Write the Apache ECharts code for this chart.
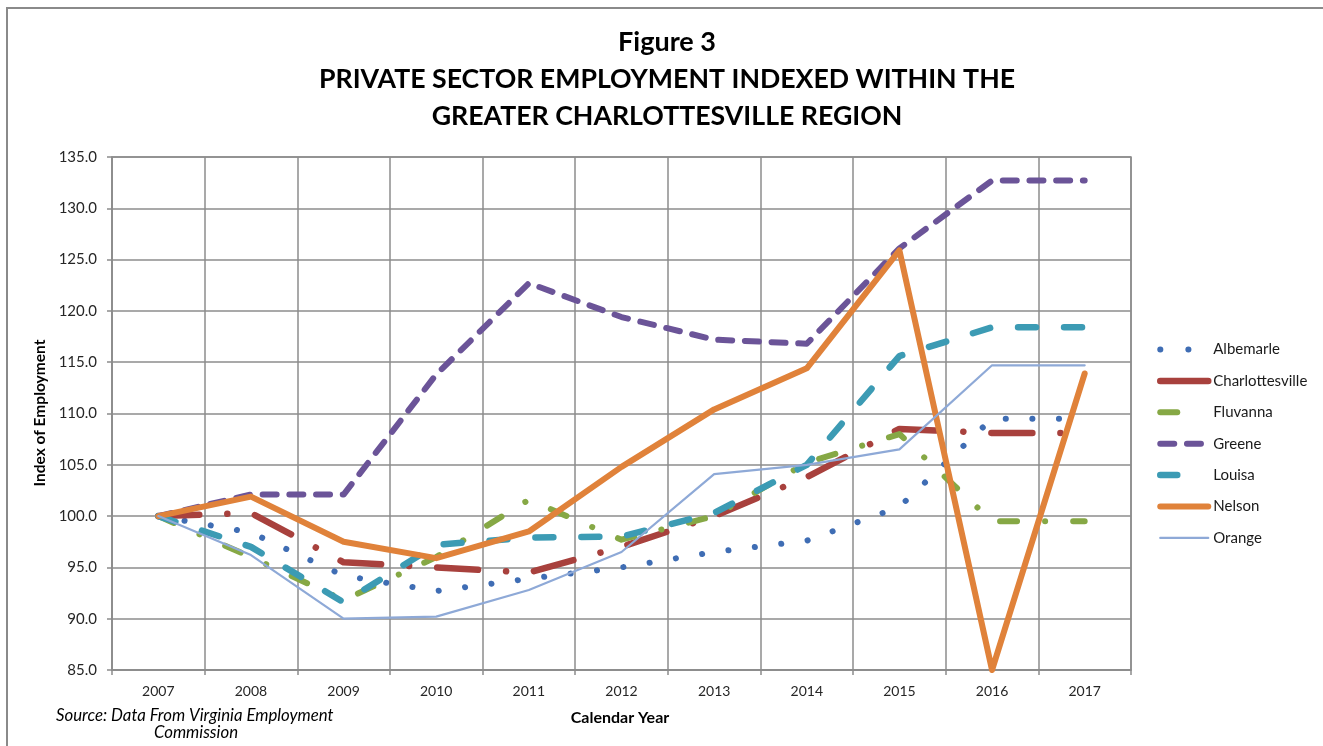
<!DOCTYPE html>
<html>
<head>
<meta charset="utf-8">
<script src="https://cdn.jsdelivr.net/npm/echarts@6/dist/echarts.min.js"></script>
<style>
html,body{margin:0;padding:0;background:#fff;}
#chart{width:1323px;height:746px;}
</style>
</head>
<body>
<div id="chart"></div>
<script>
const years = ['2007','2008','2009','2010','2011','2012','2013','2014','2015','2016','2017'];
const albemarle      = [100, 98.4, 94.2, 92.7, 93.9, 95.0, 96.5, 97.6, 100.9, 109.5, 109.5];
const charlottesville= [100, 100.3, 95.5, 95.0, 94.5, 97.0, 100.0, 103.8, 108.5, 108.1, 108.1];
const fluvanna       = [100, 96.0, 91.8, 96.0, 101.6, 97.7, 100.0, 105.2, 108.0, 99.5, 99.5];
const greene         = [100, 102.1, 102.1, 113.8, 122.7, 119.4, 117.2, 116.8, 126.1, 132.7, 132.7];
const louisa         = [100, 97.0, 91.6, 97.2, 97.9, 98.0, 100.3, 105.0, 115.6, 118.4, 118.4];
const nelson         = [100, 101.9, 97.5, 95.9, 98.5, 104.8, 110.4, 114.4, 125.9, 85.0, 113.9];
const orange         = [100, 96.2, 90.0, 90.2, 92.8, 96.5, 104.1, 105.0, 106.5, 114.7, 114.7];
const yTicks = [85, 90, 95, 100, 105, 110, 115, 120, 125, 130, 135];

const FONT = 'Lato, "Open Sans", sans-serif';

const seriesDefs = [
  {name:'Albemarle', data:albemarle, color:'#3F6DB4', width:6, type:[0.1, 26.5], legendType:[0.1, 28]},
  {name:'Charlottesville', data:charlottesville, color:'#A8413D', width:6.5, type:[41, 28, 0.1, 28], legendType:'solid'},
  {name:'Fluvanna', data:fluvanna, color:'#86A845', width:6, type:[17, 28, 0.1, 28], legendType:[17, 60]},
  {name:'Greene', data:greene, color:'#6B5498', width:6, type:[14, 12.7], legendType:[14, 12.7]},
  {name:'Louisa', data:louisa, color:'#3C9BB4', width:6.5, type:[18, 28], legendType:[17, 60]},
  {name:'Nelson', data:nelson, color:'#E0823A', width:6, type:'solid', legendType:'solid'},
  {name:'Orange', data:orange, color:'#8EA9D7', width:2.2, type:'solid', legendType:'solid'}
];

const chart = echarts.init(document.getElementById('chart'), null, {renderer:'canvas'});
const option = {
  animation:false,
  backgroundColor:'#ffffff',
  grid:{left:112, right:192, top:157, bottom:76, containLabel:false, show:true, borderColor:'#8c8c8c', borderWidth:1.5},
  xAxis:{
    type:'category', data:years, boundaryGap:true,
    axisLine:{show:true, lineStyle:{color:'#8c8c8c', width:1.5}},
    axisTick:{show:true, length:5, lineStyle:{color:'#8c8c8c', width:1.5}},
    axisLabel:{fontFamily:FONT, fontSize:14, color:'#262626', margin:14},
    splitLine:{show:true, lineStyle:{color:'#8c8c8c', width:1.5}}
  },
  yAxis:{
    type:'value', min:85, max:135, interval:5,
    axisLine:{show:true, lineStyle:{color:'#8c8c8c', width:1.5}},
    axisTick:{show:true, length:5, lineStyle:{color:'#8c8c8c', width:1.5}},
    axisLabel:{fontFamily:FONT, fontSize:15, color:'#262626', margin:15,
      formatter:v => yTicks.includes(v) ? v.toFixed(1) : ''},
    splitLine:{show:true, lineStyle:{color:'#8c8c8c', width:1.5}}
  },
  legend:{
    orient:'vertical', left:1157, top:342, padding:0,
    itemWidth:48, itemHeight:14, itemGap:16.4,
    itemStyle:{opacity:0},
    textStyle:{fontFamily:FONT, fontSize:15, color:'#1a1a1a', lineHeight:14},
    data: seriesDefs.map(s => ({
      name:s.name,
      lineStyle:{color:s.color, width:s.width, type:s.legendType, cap:'round', opacity:1}
    }))
  },
  series: seriesDefs.map(s => ({
    name:s.name, type:'line', data:s.data, symbol:'none', smooth:false,
    lineStyle:{color:s.color, width:s.width, type:s.type, cap:'round', join:'round'},
    itemStyle:{color:s.color},
    emphasis:{disabled:true}
  })),
  graphic:[
    {type:'rect', shape:{x:7, y:8, width:1400, height:800}, style:{fill:'none', stroke:'#8a8a8a', lineWidth:2}, silent:true, z:-10},
    {type:'text', x:667, y:42, style:{text:'Figure 3', font:'bold 27px '+FONT, fill:'#000', align:'center', verticalAlign:'middle'}},
    {type:'text', x:667, y:79, style:{text:'PRIVATE SECTOR EMPLOYMENT INDEXED WITHIN THE', font:'bold 26.7px '+FONT, fill:'#000', align:'center', verticalAlign:'middle'}},
    {type:'text', x:667, y:116, style:{text:'GREATER CHARLOTTESVILLE REGION', font:'bold 26.7px '+FONT, fill:'#000', align:'center', verticalAlign:'middle'}},
    {type:'text', x:40, y:413, rotation:Math.PI/2, style:{text:'Index of Employment', font:'bold 15.5px '+FONT, fill:'#000', align:'center', verticalAlign:'middle'}},
    {type:'text', x:620, y:718, style:{text:'Calendar Year', font:'bold 16px '+FONT, fill:'#000', align:'center', verticalAlign:'middle'}},
    {type:'text', x:56, y:716, style:{text:'Source: Data From Virginia Employment', font:'italic 16.8px '+FONT, fill:'#000', align:'left', verticalAlign:'middle'}},
    {type:'text', x:196, y:733, style:{text:'Commission', font:'italic 16.8px '+FONT, fill:'#000', align:'center', verticalAlign:'middle'}}
  ]
};
chart.setOption(option);
</script>
</body>
</html>
